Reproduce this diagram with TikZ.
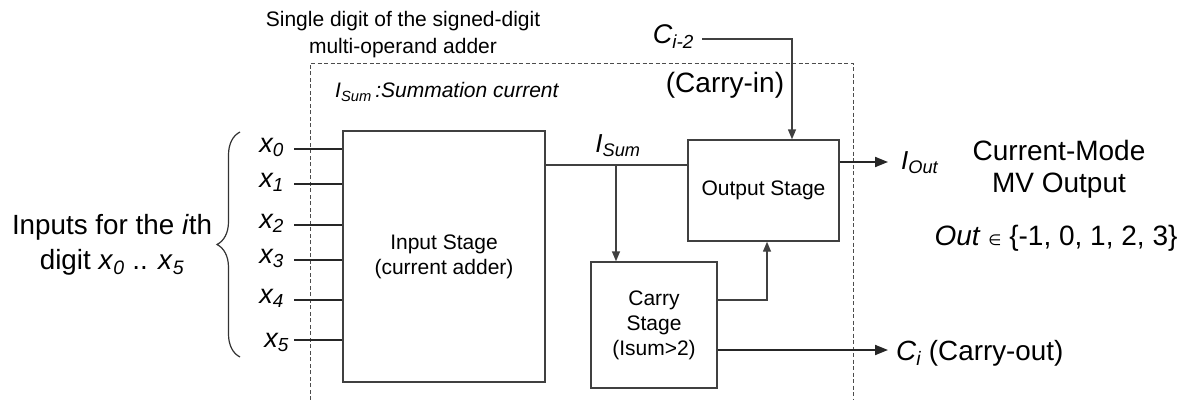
\documentclass[tikz,border=0pt]{standalone}
\usepackage{fontspec}
\setmainfont{Liberation Sans}
\newfontfamily\dvsans{DejaVu Sans}
\usetikzlibrary{arrows.meta,decorations.pathreplacing}
\newcommand\lo[1]{\textsubscript{\itshape #1}}
\newcommand\fsz[2]{\fontsize{#1}{#2}\selectfont}

\begin{document}
\begin{tikzpicture}[x=1pt,y=-1pt,
  blk/.style={draw=black!75, line width=1.4pt, inner sep=0pt, align=center, font=\fsz{21}{25}},
  wire/.style={draw=black!75, line width=1.4pt},
  arr/.style={wire, -{Triangle[length=10pt,width=8pt]}},
  bigarr/.style={draw=black!85, line width=1.9pt, -{Triangle[length=13pt,width=10pt]}},
  inwire/.style={draw=black!85, line width=1.9pt},
  lbl/.style={inner sep=0pt, align=center},
  frame/.style={draw=black!70, line width=1pt, dash pattern=on 4pt off 2.5pt},
]
\useasboundingbox (0,0) rectangle (1196,399);

% boundary of one adder digit
\draw[frame] (310,400) -- (310,63) -- (853,63) -- (853,400);

% functional blocks
\node[blk, minimum width=202pt, minimum height=251pt] (inp) at (444,256.5) {Input Stage\\(current adder)};
\node[blk, minimum width=151pt, minimum height=101pt] (out) at (763.5,190.5) {Output Stage};
\node[blk, minimum width=126pt, minimum height=126pt] (car) at (654,325) {Carry\\Stage\\(Isum>2)};

% operand inputs
\foreach \i/\y/\dx/\dy in {0/149/0/3,1/184/0/3,2/225/0/3,3/260/0/3,4/300/0/3,5/340/5/7} {
  \coordinate (p\i) at (294,\y);
  \node[anchor=base east, inner sep=0pt, font=\fsz{27}{30}\itshape] (x\i) at (284+\dx,\y+\dy) {x\lo{\i}};
  \draw[inwire] (p\i) -- (inp.west |- p\i);
}
\draw[draw=black!80, line width=1.2pt, decorate, decoration={brace, amplitude=23pt, aspect=0.5}] (240,357) -- (240,132);
\node[lbl, font=\fsz{27.8}{35}] (inlbl) at (112,245) {Inputs for the \textit{i}th\\digit \textit{x}\lo{0} .. \textit{x}\lo{5}};

% titles
\node[lbl, font=\fsz{21}{27}] (title) at (403,35) {Single digit of the signed-digit\\multi-operand adder};
\node[anchor=west, inner sep=0pt, font=\fsz{21}{24}\itshape] (sumdef) at (335,92) {I\lo{Sum}\,:Summation current};

% summation current
\coordinate (tap) at (616,165);
\node[font=\fsz{26}{28}\itshape, inner sep=0pt] (isumlbl) at (618,146) {I\lo{Sum}};
\draw[wire] (inp.east |- tap) -- (out.west |- tap);
\draw[arr] (tap) -- (car.north -| tap);

% carry-in
\node[anchor=base east, inner sep=0pt, font=\fsz{27}{30}\itshape] (cim) at (694,43) {C\lo{i-2}};
\coordinate (cinstart) at (702,39);
\coordinate (cinturn) at (792,39);
\draw[arr] (cinstart) -- (cinturn) -- (out.north -| cinturn);
\node[font=\fsz{28}{30}, inner sep=0pt] (cinlbl) at (725,85) {(Carry-in)};

% carry stage to output stage
\coordinate (cturn) at (767,300);
\draw[arr] (car.east |- cturn) -- (cturn) -- (out.south -| cturn);

% output current
\coordinate (ioutc) at (888,162);
\draw[bigarr] (out.east |- ioutc) -- (ioutc);
\node[anchor=base west, inner sep=0pt, font=\fsz{26}{30}\itshape] (iout) at (901,169) {I\lo{Out}};
\node[lbl, font=\fsz{28}{32}] (mode) at (1059,169) {Current-Mode\\MV Output};
\node[lbl, font=\fsz{28}{30}] (set) at (1056,238) {\textit{Out} {\dvsans\fsz{15}{16}∈} \{-1, 0, 1, 2, 3\}};

% carry-out
\coordinate (coend) at (888,350);
\draw[bigarr] (car.east |- coend) -- (coend);
\node[anchor=base west, inner sep=0pt, font=\fsz{27.8}{30}] (cout) at (896,360) {\textit{C}\lo{i} (Carry-out)};
\end{tikzpicture}
\end{document}
